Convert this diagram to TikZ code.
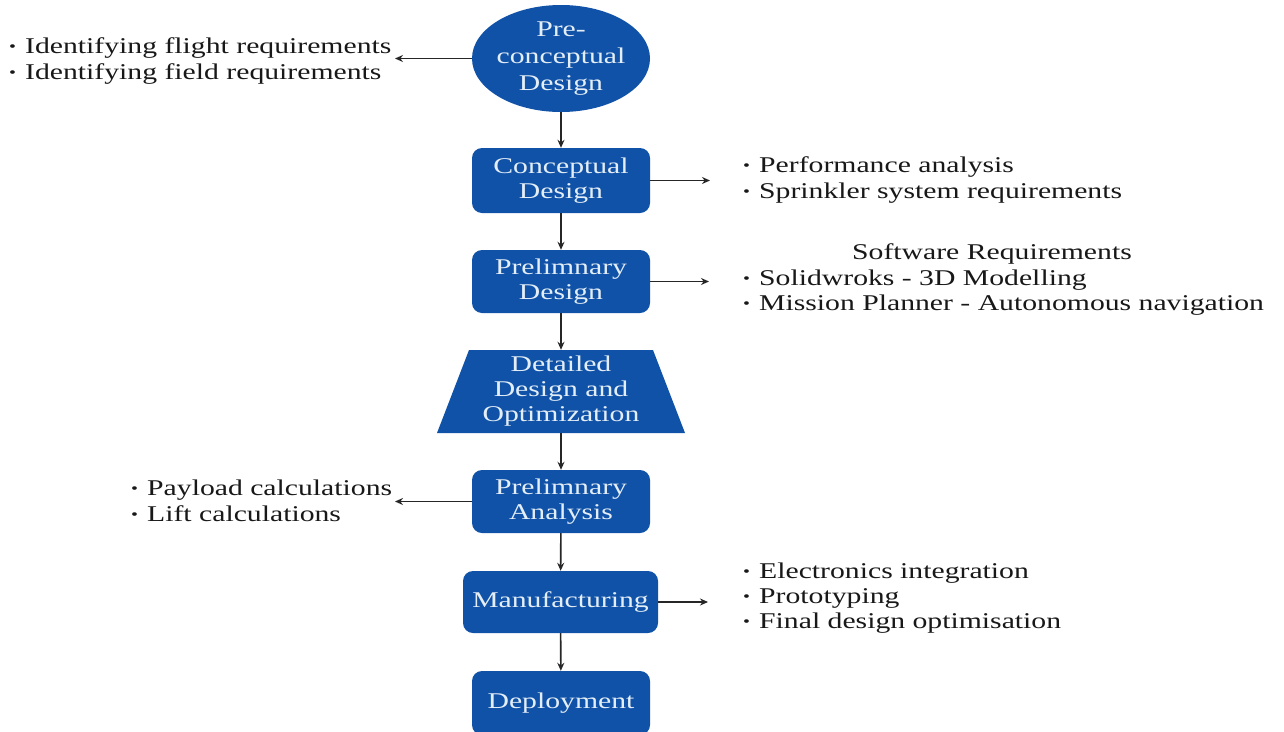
\documentclass[tikz,border=0pt]{standalone}
\usepackage{fontspec}
\setmainfont{Liberation Serif}[FakeStretch=1.32]
\usetikzlibrary{shapes.geometric,arrows.meta}
\definecolor{boxblue}{RGB}{16,82,168}
\definecolor{boxtext}{RGB}{228,238,247}
\definecolor{listtext}{RGB}{24,24,24}
\newcommand\bul{\makebox[16pt][l]{\raisebox{1.5pt}{\fontsize{15}{15}\selectfont\textbullet}}}
\tikzset{
  stage/.style={rectangle, rounded corners=10pt, fill=boxblue, text=boxtext, align=center,
    inner sep=0pt, minimum width=178pt, minimum height=64pt, font=\fontsize{22.5}{25}\selectfont},
  listline/.style={anchor=base west, inner sep=0pt, text=listtext, font=\fontsize{22.5}{26}\selectfont},
  arr/.style={draw=black!85, line width=1.6pt, -{Stealth[length=8pt,width=7pt]}}
}
\begin{document}
\begin{tikzpicture}[x=1pt,y=-1pt]
\useasboundingbox (0,0) rectangle (1284,731);
\clip (0,0) rectangle (1284,731);
\fill[white] (0,0) rectangle (1284,731);

% stages
\node[ellipse, fill=boxblue, text=boxtext, align=center, inner sep=-6pt,
  minimum width=178pt, minimum height=107pt, font=\fontsize{22.5}{27}\selectfont]
  (pre) at (561,58.5) {Pre-\\conceptual\\Design};
\node[stage, minimum height=65pt] (con) at (561,180.5) {Conceptual\\Design};
\node[stage, minimum height=63pt] (pd) at (561,281.5) {Prelimnary\\Design};
\fill[boxblue] (437,433) -- (685,433) -- (653,350) -- (469,350) -- cycle;
\node[rectangle, inner sep=0pt, minimum width=248pt, minimum height=83pt, text=boxtext,
  align=center, font=\fontsize{22.5}{25}\selectfont] (dd) at (561,391.5)
  {Detailed\\Design and\\Optimization};
\node[stage, minimum height=63pt] (pa) at (561,501.5) {Prelimnary\\Analysis};
\node[stage, minimum width=195pt, minimum height=62pt] (mf) at (560.5,602) {Manufacturing};
\node[stage, minimum height=64pt] (dep) at (561,703) {Deployment};

% list texts
\node[listline] (l1a) at (9,53) {\bul Identifying flight requirements};
\node[listline] (l1b) at (9,79) {\bul Identifying field requirements};
\node[listline] (l2a) at (743,172) {\bul Performance analysis};
\node[listline] (l2b) at (743,198) {\bul Sprinkler system requirements};
\node[listline] (l3h) at (852,259) {Software Requirements};
\node[listline] (l3a) at (743,285) {\bul Solidwroks - 3D Modelling};
\node[listline] (l3b) at (743,310) {\bul Mission Planner - Autonomous navigation};
\node[listline] (l4a) at (131,495) {\bul Payload calculations};
\node[listline] (l4b) at (131,521) {\bul Lift calculations};
\node[listline] (l5a) at (743,578) {\bul Electronics integration};
\node[listline] (l5b) at (743,603) {\bul Prototyping};
\node[listline] (l5c) at (743,628) {\bul Final design optimisation};

% arrow end points
\coordinate (t1) at (395,61);
\coordinate (t2) at (710,181);
\coordinate (t3) at (709,282);
\coordinate (t4) at (395,502);
\coordinate (t5) at (708,602);

% vertical flow
\draw[arr] (pre) -- (con);
\draw[arr] (con) -- (pd);
\draw[arr] (pd) -- (dd);
\draw[arr] (dd) -- (pa);
\draw[arr] (pa) -- (mf);
\draw[arr] (mf) -- (dep);

% side arrows
\draw[arr] (pre.west) -- (pre.west -| t1);
\draw[arr] (con.east) -- (con.east -| t2);
\draw[arr] (pd.east) -- (pd.east -| t3);
\draw[arr] (pa.west) -- (pa.west -| t4);
\draw[arr] (mf.east) -- (mf.east -| t5);
\end{tikzpicture}
\end{document}
